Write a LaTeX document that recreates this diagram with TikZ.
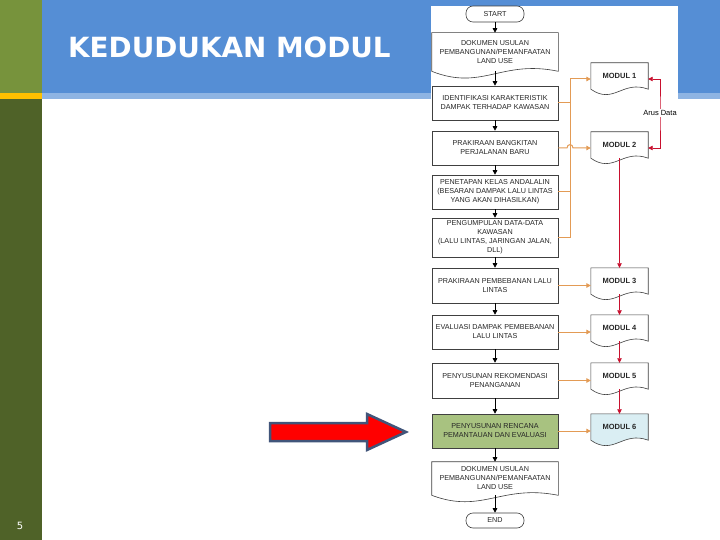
\documentclass[tikz,border=0pt]{standalone}
\usepackage{fontspec}
\setmainfont{Liberation Sans}
\newfontfamily\titlefont{DejaVu Sans}
\usetikzlibrary{calc,arrows.meta,backgrounds}

\definecolor{headblue}{HTML}{558ED5}
\definecolor{stripblue}{HTML}{8EB4E3}
\definecolor{barolive}{HTML}{77933C}
\definecolor{bardark}{HTML}{4F6228}
\definecolor{baryellow}{HTML}{FFC000}
\definecolor{boxgray}{HTML}{404040}
\definecolor{datorange}{HTML}{E39B55}
\definecolor{datred}{HTML}{C8102E}
\definecolor{rencgreen}{HTML}{A8C280}
\definecolor{modblue}{HTML}{DAEEF3}
\definecolor{arrowedge}{HTML}{41557A}

\newcommand\docshape[3]{%
	\begin{scope}[on background layer]
		\draw[boxgray, line width=0.6pt, fill=#2] (#1.north west) -- (#1.north east) -- (#1.south east)
			.. controls ($(#1.south east)!0.45!(#1.south west)+(0,-0.6*#3)$) and ($(#1.south west)!0.4!(#1.south east)+(0,#3)$) .. (#1.south west) -- cycle;
	\end{scope}}

\begin{document}
\begin{tikzpicture}[x=1pt, y=-1pt, >={Triangle[length=4.5pt,width=4.5pt]},
	box/.style={draw=boxgray, line width=0.6pt, minimum width=126pt, minimum height=34pt, align=center, inner sep=1pt, text=black!85, font=\fontsize{7.2}{9}\selectfont},
	docbox/.style={box, draw=none},
	termbox/.style={box, rounded corners=7pt, minimum width=58pt, minimum height=16pt},
	modbox/.style={minimum width=57pt, minimum height=26pt, inner sep=1pt, text=black!85, font=\fontsize{7.5}{9}\selectfont\bfseries},
	flow/.style={->, line width=0.6pt, black},
	oline/.style={line width=1pt, datorange},
	odata/.style={oline, ->},
	rdata/.style={->, line width=0.7pt, datred}]
	\useasboundingbox (0,0) rectangle (720,540);
	\begin{scope}[on background layer]
		\fill[white] (0,0) rectangle (720,540);
		\fill[headblue] (42,0) rectangle (720,93);
		\fill[stripblue] (42,93) rectangle (720,99);
		\fill[barolive] (0,0) rectangle (42,93);
		\fill[baryellow] (0,93) rectangle (42,99);
		\fill[bardark] (0,99) rectangle (42,540);
		\fill[white] (431,6) rectangle (678,540);
	\end{scope}
	\node[anchor=west, inner sep=0pt, text=white, font=\titlefont\bfseries\fontsize{27.8}{30}\selectfont] (judul) at (68,47) {KEDUDUKAN MODUL};
	\node[text=white, font=\titlefont\fontsize{10}{12}\selectfont] (halaman) at (20,526) {5};
	\draw[arrowedge, line width=2.5pt, fill=red] (270,423) -- (367,423) -- (367,414) -- (406,432) -- (367,450) -- (367,441) -- (270,441) -- cycle;

	\node[termbox] (mulai) at (495,14) {START};
	\node[docbox, minimum height=38pt] (usul) at (495,52) {DOKUMEN USULAN\\PEMBANGUNAN/PEMANFAATAN\\LAND USE};
	\node[box] (identifikasi) at (495,103) {IDENTIFIKASI KARAKTERISTIK\\DAMPAK TERHADAP KAWASAN};
	\node[box] (bangkitan) at (495,148) {PRAKIRAAN BANGKITAN\\PERJALANAN BARU};
	\node[box] (kelas) at (495,192) {PENETAPAN KELAS ANDALALIN\\(BESARAN DAMPAK LALU LINTAS\\YANG AKAN DIHASILKAN)};
	\node[box, minimum height=39pt] (kumpul) at (495,237.5) {PENGUMPULAN DATA-DATA\\KAWASAN\\(LALU LINTAS, JARINGAN JALAN,\\DLL)};
	\node[box, minimum height=35pt] (beban) at (495,285.5) {PRAKIRAAN PEMBEBANAN LALU\\LINTAS};
	\node[box] (evaluasi) at (495,332) {EVALUASI DAMPAK PEMBEBANAN\\LALU LINTAS};
	\node[box, minimum height=35pt] (rekomendasi) at (495,380.5) {PENYUSUNAN REKOMENDASI\\PENANGANAN};
	\node[box, fill=rencgreen] (rencana) at (495,431) {PENYUSUNAN RENCANA\\PEMANTAUAN DAN EVALUASI};
	\node[docbox, minimum height=33pt] (usulakhir) at (495,478.5) {DOKUMEN USULAN\\PEMBANGUNAN/PEMANFAATAN\\LAND USE};
	\node[termbox, minimum height=15pt] (selesai) at (495,520.5) {END};
	\docshape{usul}{white}{20}
	\docshape{usulakhir}{white}{19}

	\node[modbox] (m1) at (619.5,76) {MODUL 1};
	\node[modbox] (m2) at (619.5,145) {MODUL 2};
	\node[modbox] (m3) at (619.5,281) {MODUL 3};
	\node[modbox] (m4) at (619.5,328) {MODUL 4};
	\node[modbox] (m5) at (619.5,376) {MODUL 5};
	\node[modbox] (m6) at (619.5,427) {MODUL 6};
	\docshape{m1}{white}{16}
	\docshape{m2}{white}{16}
	\docshape{m3}{white}{16}
	\docshape{m4}{white}{16}
	\docshape{m5}{white}{16}
	\docshape{m6}{modblue}{16}

	\draw[flow] (mulai) -- (usul);
	\draw[flow] (usul) -- (identifikasi);
	\draw[flow] (identifikasi) -- (bangkitan);
	\draw[flow] (bangkitan) -- (kelas);
	\draw[flow] (kelas) -- (kumpul);
	\draw[flow] (kumpul) -- (beban);
	\draw[flow] (beban) -- (evaluasi);
	\draw[flow] (evaluasi) -- (rekomendasi);
	\draw[flow] (rekomendasi) -- (rencana);
	\draw[flow] (rencana) -- (usulakhir);
	\draw[flow] (usulakhir) -- (selesai);

	\coordinate (bus) at (570,79);
	\coordinate (hop) at (bangkitan.east -| bus);
	\draw[odata] (kumpul.east) -| (bus) -- (bus -| m1.west);
	\draw[oline] (identifikasi.east) -- (identifikasi.east -| bus);
	\draw[oline] (kelas.east) -- (kelas.east -| bus);
	\draw[odata] (bangkitan.east) -- ($(hop)+(-3,0)$) .. controls ($(hop)+(-3,-4.5)$) and ($(hop)+(3,-4.5)$) .. ($(hop)+(3,0)$) -- (bangkitan.east -| m2.west);
	\draw[odata] (beban.east) -- (beban.east -| m3.west);
	\draw[odata] (evaluasi.east) -- (evaluasi.east -| m4.west);
	\draw[odata] (rekomendasi.east) -- (rekomendasi.east -| m5.west);
	\draw[odata] (rencana.east) -- (rencana.east -| m6.west);

	\coordinate (arus) at (660,113);
	\draw[rdata, <->] ([yshift=-3pt]m1.east) -| (arus) |- ([yshift=-3pt]m2.east);
	\node[fill=white, inner sep=1pt, font=\fontsize{7.5}{9}\selectfont] (aruslabel) at (arus) {Arus Data};
	\draw[rdata] (m2.south) -- (m3.north);
	\draw[rdata] (m3.south) -- (m4.north);
	\draw[rdata] (m4.south) -- (m5.north);
	\draw[rdata] (m5.south) -- (m6.north);
\end{tikzpicture}
\end{document}
